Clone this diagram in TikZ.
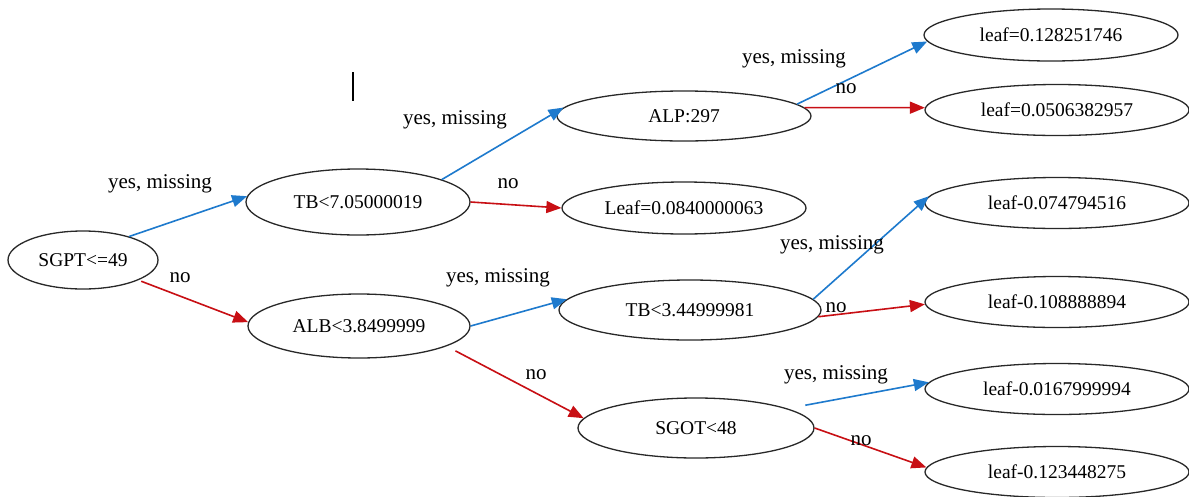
\documentclass[tikz,border=0pt]{standalone}
\usepackage{fontspec}
\setmainfont{Liberation Serif}
\usetikzlibrary{shapes.geometric,arrows.meta}
\definecolor{yesblue}{RGB}{30,122,205}
\definecolor{nored}{RGB}{200,15,20}
\definecolor{ringgray}{RGB}{40,40,40}
\tikzset{
  tnode/.style={ellipse,draw=ringgray,line width=1.3pt,inner sep=0pt,font=\fontsize{19.5}{22}\selectfont},
  leafnode/.style={tnode,minimum width=264pt,minimum height=51pt},
  yesarr/.style={draw=yesblue,line width=1.6pt,-{Triangle[length=15pt,width=12pt]},fill=yesblue},
  noarr/.style={draw=nored,line width=1.6pt,-{Triangle[length=15pt,width=12pt]},fill=nored},
  elabel/.style={font=\fontsize{21}{24}\selectfont,anchor=base,inner sep=0pt},
}
\begin{document}
\begin{tikzpicture}[x=1pt,y=-1pt]
\clip (0,0) rectangle (1189,496);
\fill[white] (0,0) rectangle (1189,496);

% nodes
\node[tnode,minimum width=150pt,minimum height=58pt] (sgpt) at (83,260) {SGPT<=49};
\node[tnode,minimum width=224pt,minimum height=66pt] (tb7) at (358,202) {TB<7.05000019};
\node[tnode,minimum width=222pt,minimum height=64pt] (alb) at (359,326) {ALB<3.8499999};
\node[tnode,minimum width=254pt,minimum height=50pt] (alp) at (684,116) {ALP:297};
\node[tnode,minimum width=244pt,minimum height=52pt] (lf084) at (684,208) {Leaf=0.0840000063};
\node[tnode,minimum width=262pt,minimum height=60pt] (tb345) at (690,310) {TB<3.44999981};
\node[tnode,minimum width=236pt,minimum height=60pt] (sgot) at (696,428) {SGOT<48};
\node[tnode,minimum width=254pt,minimum height=52pt] (leafa) at (1051,35) {leaf=0.128251746};
\node[leafnode] (leafb) at (1057,110) {leaf=0.0506382957};
\node[leafnode] (leafc) at (1057,203) {leaf-0.074794516};
\node[leafnode] (leafd) at (1057,302) {leaf-0.108888894};
\node[leafnode] (leafe) at (1057,389) {leaf-0.0167999994};
\node[leafnode] (leaff) at (1057,472) {leaf-0.123448275};

% connectors
\draw[yesarr] (sgpt.27) -- (tb7.177);
\draw[noarr,shorten <=3pt] (sgpt.-20) -- (alb.178);
\draw[yesarr] (tb7.15) -- (alp.176);
\draw[noarr] (tb7.0) -- (lf084.180);
\draw[yesarr] (alp.6) -- (leafa.183);
\draw[noarr] (alp.4) -- (leafb.179);
\draw[yesarr] (alb.0) -- (tb345.175);
\draw[noarr,shorten <=10pt] (alb.-13) -- (sgot.175);
\draw[yesarr] (tb345.5) -- (leafc.177);
\draw[noarr] (tb345.-3.5) -- (leafd.181);
\draw[yesarr,shorten <=18pt] (sgot.12) -- (leafe.177);
\draw[noarr] (sgot.0) -- (leaff.178);

% edge labels
\node[elabel] (l1) at (160,188) {yes, missing};
\node[elabel] (l2) at (180,282) {no};
\node[elabel] (l3) at (455,124) {yes, missing};
\node[elabel] (l4) at (508,188) {no};
\node[elabel] (l5) at (794,63) {yes, missing};
\node[elabel] (l6) at (846,93) {no};
\node[elabel] (l7) at (498,282) {yes, missing};
\node[elabel] (l8) at (536,379) {no};
\node[elabel] (l9) at (832,249) {yes, missing};
\node[elabel] (l10) at (836,312) {no};
\node[elabel] (l11) at (836,379) {yes, missing};
\node[elabel] (l12) at (861,445) {no};

% stray cursor bar
\draw[line width=2.6pt,black] (353,72) -- (353,101);
\end{tikzpicture}
\end{document}
